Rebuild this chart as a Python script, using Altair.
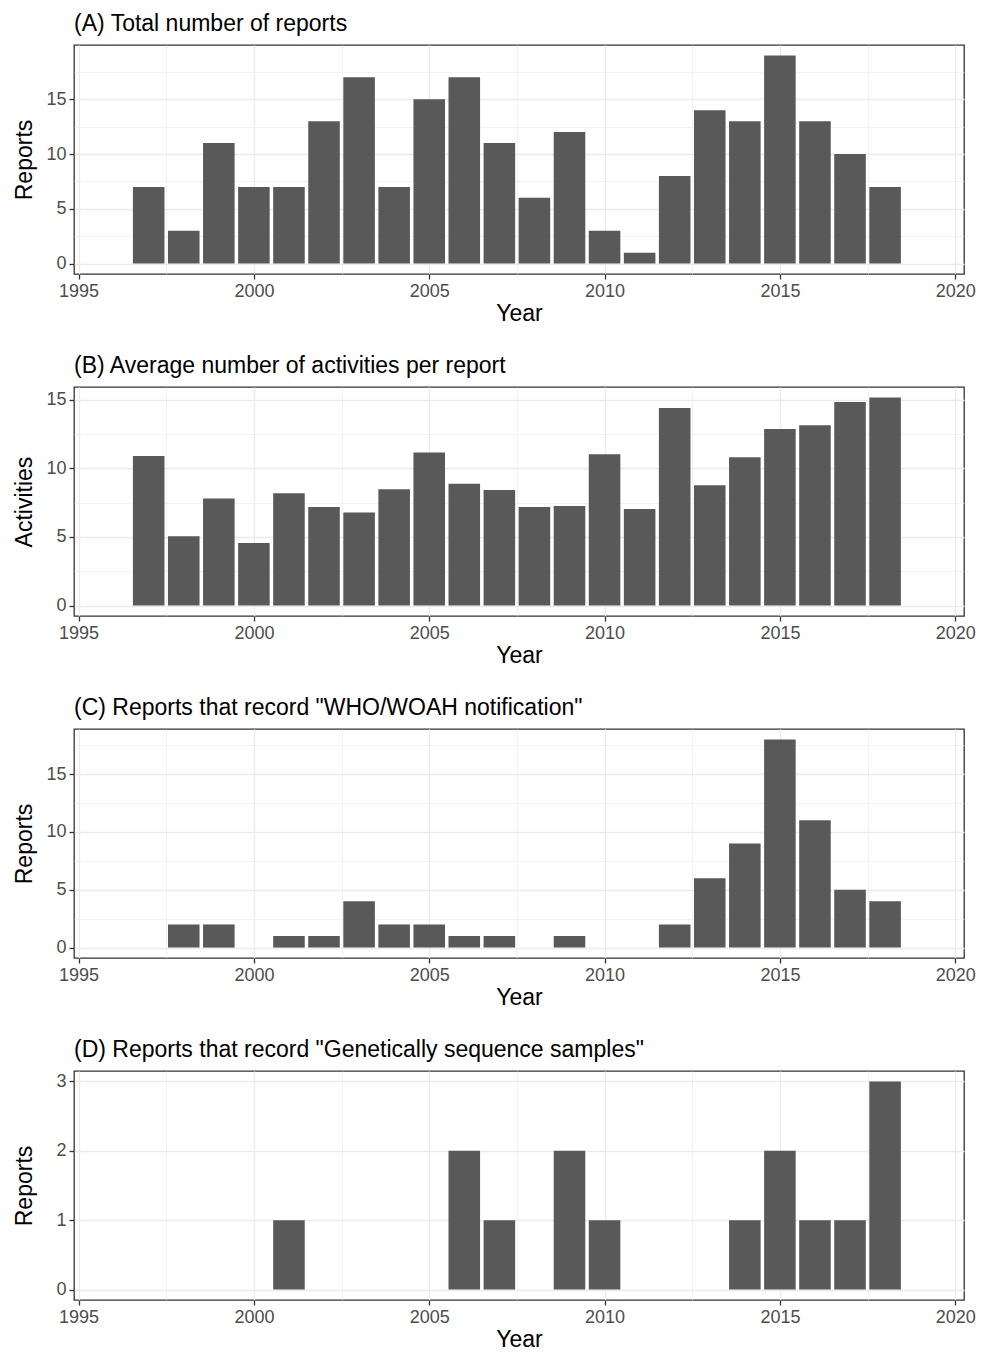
import altair as alt
import pandas as pd

years = list(range(1997, 2019))
total_reports = [7, 3, 11, 7, 7, 13, 17, 7, 15, 17, 11, 6, 12, 3, 1, 8, 14, 13, 19, 13, 10, 7]
avg_activities = [10.9, 5.05, 7.8, 4.57, 8.18, 7.18, 6.79, 8.47, 11.15, 8.88, 8.42, 7.18,
                  7.25, 11.03, 7.03, 14.39, 8.77, 10.81, 12.86, 13.15, 14.83, 15.17]
who_woah = [0, 2, 2, 0, 1, 1, 4, 2, 2, 1, 1, 0, 1, 0, 0, 2, 6, 9, 18, 11, 5, 4]
gen_seq = [0, 0, 0, 0, 1, 0, 0, 0, 0, 2, 1, 0, 2, 1, 0, 0, 0, 1, 2, 1, 1, 3]

titles = ["(A) Total number of reports",
          "(B) Average number of activities per report",
          "(C) Reports that record \"WHO/WOAH notification\"",
          "(D) Reports that record \"Genetically sequence samples\""]
y_titles = ["Reports", "Activities", "Reports", "Reports"]

FONT = "Liberation Sans"
W, H = 890, 229


def panel(values, title, ytitle, major_step):
    df = pd.DataFrame({"year": years, "value": values})
    vmax = max(values)
    pad = vmax * 0.05
    ydom = [-pad, vmax + pad]
    yvals = []
    k = 0
    while k * major_step / 2 <= vmax + pad:
        yvals.append(k * major_step / 2)
        k += 1
    xvals = [1995 + 2.5 * i for i in range(11)]
    major_x = "datum.value % 5 === 0"
    major_y = f"abs(datum.value / {major_step} - round(datum.value / {major_step})) < 1e-6"
    xaxis = alt.Axis(
        values=xvals, title="Year",
        labelExpr=f"{major_x} ? datum.label : ''",
        gridWidth={"condition": {"test": major_x, "value": 1.3}, "value": 0.6},
        tickOpacity={"condition": {"test": major_x, "value": 1}, "value": 0},
        format="d",
    )
    yaxis = alt.Axis(
        values=yvals, title=ytitle,
        labelExpr=f"{major_y} ? datum.label : ''",
        gridWidth={"condition": {"test": major_y, "value": 1.3}, "value": 0.6},
        tickOpacity={"condition": {"test": major_y, "value": 1}, "value": 0},
        format="d", minExtent=32, maxExtent=32,
    )
    return alt.Chart(df).transform_calculate(
        x0="datum.year - 0.45", x1="datum.year + 0.45"
    ).mark_rect(color="#595959").encode(
        x=alt.X("x0:Q", scale=alt.Scale(domain=[1994.87, 2020.25], nice=False, zero=False), axis=xaxis),
        x2="x1:Q",
        y=alt.Y("value:Q", scale=alt.Scale(domain=ydom, nice=False, zero=False), axis=yaxis),
        y2=alt.datum(0),
    ).properties(
        width=W, height=H,
        title=alt.TitleParams(title, anchor="start", frame="group", fontSize=23, font=FONT,
                              fontWeight="normal", color="black", offset=9),
    )


chart = alt.vconcat(
    panel(total_reports, titles[0], y_titles[0], 5),
    panel(avg_activities, titles[1], y_titles[1], 5),
    panel(who_woah, titles[2], y_titles[2], 5),
    panel(gen_seq, titles[3], y_titles[3], 1),
    spacing=28,
).properties(
    padding={"left": 4, "top": 4, "right": 0, "bottom": 0}
).configure_view(
    stroke="#333333", strokeWidth=1.3
).configure_axis(
    domain=False, gridColor="#ebebeb", tickColor="#333333", tickSize=5, tickWidth=1.3,
    labelFont=FONT, labelFontSize=18, labelColor="#4d4d4d", labelPadding=3,
    titleFont=FONT, titleFontSize=23, titleFontWeight="normal", titleColor="black",
).configure_axisX(titlePadding=2).configure_axisY(titlePadding=6)

chart.save("out.html", embed_options={"renderer": "svg", "actions": False})
